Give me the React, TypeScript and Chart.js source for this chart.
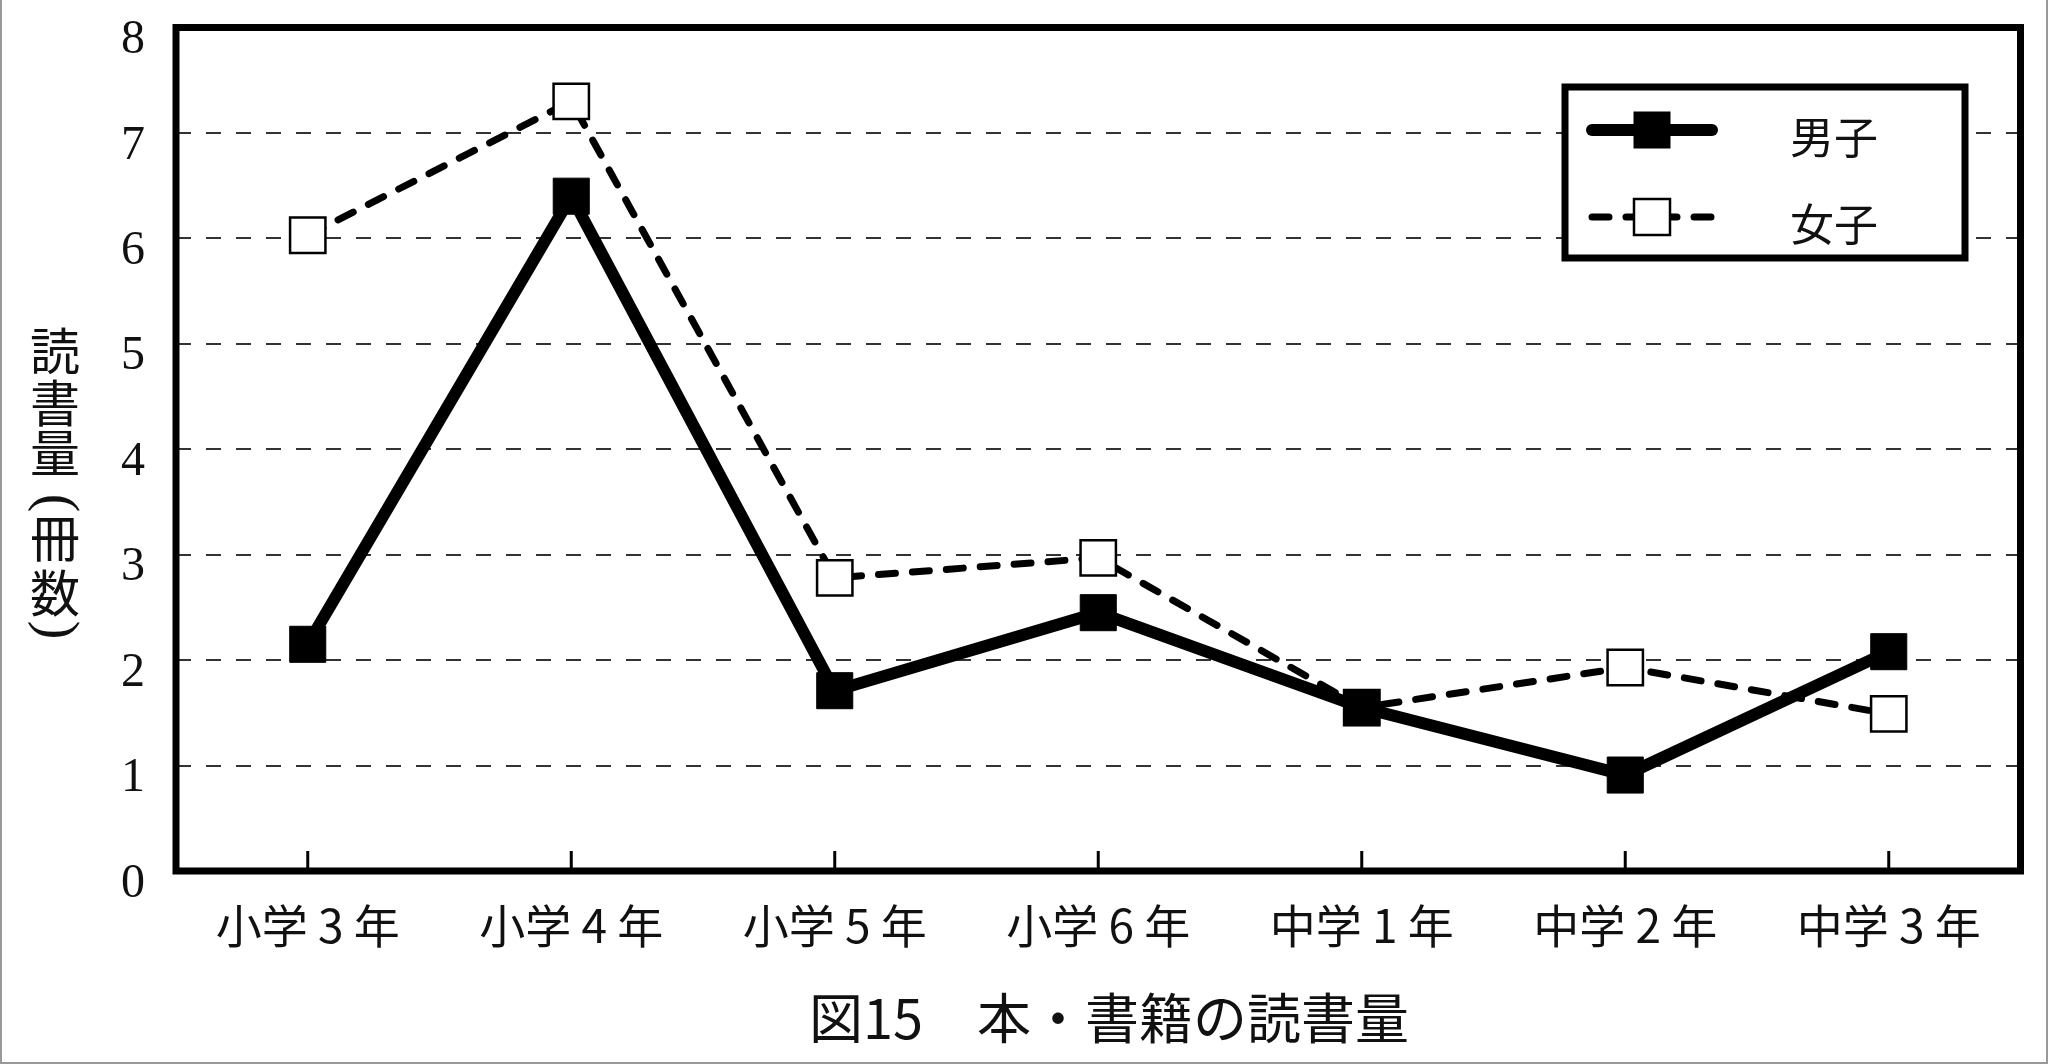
import React, { useEffect, useRef } from "react";
import { Chart, registerables } from "chart.js";

Chart.register(...registerables);

// ---- data ----
const categories = ["小学 3 年", "小学 4 年", "小学 5 年", "小学 6 年", "中学 1 年", "中学 2 年", "中学 3 年"];
const seriesNames = ["男子", "女子"];
const boysValues = [2.15, 6.4, 1.71, 2.45, 1.55, 0.91, 2.08];
const girlsValues = [6.03, 7.3, 2.78, 2.97, 1.55, 1.93, 1.49];
const yMin = 0;
const yMax = 8;
const yStep = 1;
const yAxisTitleChars = ["読", "書", "量", "(", "冊", "数", ")"];
const chartTitle = "図15　本・書籍の読書量";

const JP = '"Noto Sans CJK JP", "Noto Sans CJK SC", sans-serif';
const SERIF = '"Liberation Serif", "DejaVu Serif", serif';

const decorPlugin = {
  id: "decor",
  afterDraw(chart: any) {
    const { ctx, chartArea: a, scales } = chart;
    const xs = scales.x;
    ctx.save();

    // x tick marks pointing up into plot
    ctx.strokeStyle = "#000";
    ctx.lineWidth = 3;
    ctx.setLineDash([]);
    categories.forEach((_, i) => {
      const px = xs.getPixelForValue(i);
      ctx.beginPath();
      ctx.moveTo(px, a.bottom);
      ctx.lineTo(px, a.bottom - 20);
      ctx.stroke();
    });

    // plot frame
    ctx.lineWidth = 7;
    ctx.strokeRect(a.left, a.top, a.right - a.left, a.bottom - a.top);

    // legend box
    const lx = 1565, ly = 87, lw = 400, lh = 171;
    ctx.fillStyle = "#fff";
    ctx.fillRect(lx, ly, lw, lh);
    ctx.lineWidth = 7;
    ctx.strokeStyle = "#000";
    ctx.strokeRect(lx, ly, lw, lh);

    const rows = [130, 217];
    chart.data.datasets.forEach((ds: any, i: number) => {
      const y = rows[i];
      ctx.save();
      ctx.strokeStyle = ds.borderColor;
      ctx.lineWidth = ds.borderWidth;
      ctx.lineCap = "round";
      ctx.setLineDash(ds.borderDash || []);
      ctx.beginPath();
      ctx.moveTo(1592, y);
      ctx.lineTo(1712, y);
      ctx.stroke();
      ctx.setLineDash([]);
      const s = 36;
      ctx.fillStyle = ds.pointBackgroundColor;
      ctx.fillRect(1652 - s / 2, y - s / 2, s, s);
      ctx.lineWidth = ds.pointBorderWidth;
      ctx.strokeStyle = ds.pointBorderColor;
      ctx.strokeRect(1652 - s / 2, y - s / 2, s, s);
      ctx.restore();
      ctx.fillStyle = "#111";
      ctx.font = `44px ${JP}`;
      ctx.textAlign = "left";
      ctx.textBaseline = "middle";
      ctx.fillText(ds.label, 1790, y + 7);
    });

    // y axis title (vertical)
    const centers = [351, 403, 453, 503, 538, 593, 630];
    ctx.fillStyle = "#111";
    ctx.textAlign = "center";
    ctx.textBaseline = "middle";
    yAxisTitleChars.forEach((ch, i) => {
      const cy = centers[i];
      if (ch === "(" || ch === ")") {
        ctx.save();
        ctx.translate(55, cy);
        ctx.rotate(Math.PI / 2);
        ctx.font = `56px ${SERIF}`;
        ctx.fillText(ch, 0, 0);
        ctx.restore();
      } else {
        ctx.font = `50px ${JP}`;
        ctx.fillText(ch, 55, cy);
      }
    });

    // chart title
    ctx.font = `54px ${JP}`;
    ctx.fillStyle = "#111";
    ctx.textAlign = "center";
    ctx.textBaseline = "middle";
    ctx.fillText(chartTitle, 1109, 1018);

    // outer image border
    ctx.strokeStyle = "#999";
    ctx.lineWidth = 2;
    ctx.beginPath();
    ctx.moveTo(1, 0);
    ctx.lineTo(1, 1063);
    ctx.lineTo(2047, 1063);
    ctx.lineTo(2047, 0);
    ctx.stroke();

    ctx.restore();
  },
};

export default function App() {
  const ref = useRef<HTMLCanvasElement | null>(null);

  useEffect(() => {
    document.body.style.margin = "0";
    document.body.style.overflow = "hidden";
    const canvas = ref.current;
    if (!canvas) return;
    const chart = new Chart(canvas, {
      type: "line",
      data: {
        labels: categories,
        datasets: [
          {
            label: seriesNames[0],
            data: boysValues,
            borderColor: "#000",
            borderWidth: 12,
            borderJoinStyle: "miter",
            pointStyle: "rect",
            pointRadius: 25.5,
            pointBackgroundColor: "#000",
            pointBorderColor: "#000",
            pointBorderWidth: 1,
            tension: 0,
            order: 0,
            clip: false,
          },
          {
            label: seriesNames[1],
            data: girlsValues,
            borderColor: "#000",
            borderWidth: 7,
            borderDash: [17, 17],
            borderCapStyle: "round",
            pointStyle: "rect",
            pointRadius: 25,
            pointBackgroundColor: "#fff",
            pointBorderColor: "#000",
            pointBorderWidth: 2.5,
            tension: 0,
            order: 1,
            clip: false,
          },
        ],
      },
      options: {
        responsive: false,
        animation: false,
        devicePixelRatio: 1,
        layout: { padding: { top: 23, right: 19, bottom: 0, left: 0 } },
        plugins: {
          legend: { display: false },
          tooltip: { enabled: false },
          title: { display: false },
        },
        scales: {
          x: {
            type: "category",
            offset: true,
            grid: { display: false, drawTicks: false },
            border: { display: false },
            ticks: {
              color: "#111",
              font: { family: JP, size: 46 },
              padding: 27,
              maxRotation: 0,
              minRotation: 0,
              autoSkip: false,
            },
            afterFit: (s: any) => {
              s.height = 193;
              s.paddingLeft = 0;
              s.paddingRight = 0;
            },
          },
          y: {
            min: yMin,
            max: yMax,
            grid: { color: "#333", lineWidth: 2, drawTicks: false },
            border: { display: false, dash: [15, 15] },
            ticks: {
              stepSize: yStep,
              color: "#111",
              font: { family: SERIF, size: 48 },
              padding: 31,
              labelOffset: 13,
            },
            afterFit: (s: any) => {
              s.width = 176;
              s.paddingTop = 0;
              s.paddingBottom = 0;
            },
          },
        },
      },
      plugins: [decorPlugin],
    } as any);
    return () => chart.destroy();
  }, []);

  return (
    <div style={{ position: "absolute", left: 0, top: 0, width: 2048, height: 1064, background: "#fff" }}>
      <canvas ref={ref} width={2048} height={1064} style={{ display: "block", width: 2048, height: 1064 }} />
    </div>
  );
}
